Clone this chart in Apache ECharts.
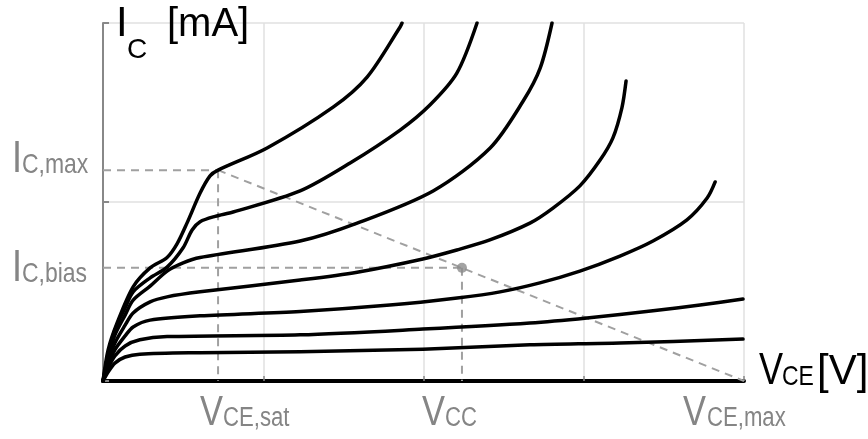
<!DOCTYPE html>
<html>
<head>
<meta charset="utf-8">
<script src="https://cdn.jsdelivr.net/npm/echarts@6/dist/echarts.min.js"></script>
<style>
  html, body { margin: 0; padding: 0; background: #fff; }
  #c { width: 868px; height: 439px; }
</style>
</head>
<body>
<div id="c"></div>
<script>
// Output characteristics of a bipolar transistor: I_C versus V_CE for several base currents.
// Units are arbitrary (only the shape matters): V_CE on 0..20, I_C on 0..10.
const curveIb1 = [[0,0],[0.16,0.25],[0.37,0.50],[0.69,0.67],[1.15,0.75],[3.03,0.79],[6.15,0.82],[9.98,0.89],[13.32,1.01],[16.13,1.06],[19.97,1.17]];
const curveIb2 = [[0,0],[0.16,0.36],[0.37,0.70],[0.69,0.98],[1.15,1.15],[2.00,1.24],[6.15,1.29],[9.98,1.45],[13.32,1.62],[15.10,1.76],[17.16,1.96],[18.63,2.12],[19.97,2.29]];
const curveIb3 = [[0,0],[0.16,0.45],[0.37,0.87],[0.69,1.26],[0.94,1.51],[1.47,1.70],[3.03,1.82],[6.15,1.94],[8.95,2.12],[11.05,2.32],[12.39,2.49],[13.63,2.74],[14.88,3.07],[16.13,3.49],[17.16,3.91],[18.22,4.50],[18.85,5.11],[19.10,5.56]];
const curveIb4 = [[0,0],[0.16,0.53],[0.37,1.06],[0.69,1.56],[0.94,1.90],[1.47,2.21],[2.00,2.35],[3.03,2.49],[6.15,2.82],[7.93,3.04],[9.98,3.41],[11.04,3.66],[12.07,3.94],[13.32,4.41],[14.04,4.83],[14.88,5.45],[15.51,6.17],[15.91,6.79],[16.19,7.63],[16.32,8.38]];
const curveIb5 = [[0,0],[0.16,0.64],[0.37,1.28],[0.69,1.84],[0.94,2.26],[1.47,2.65],[2.00,3.07],[2.50,3.30],[3.03,3.45],[6.15,3.91],[7.93,4.41],[10.30,5.31],[12.08,6.51],[13.11,7.82],[13.64,8.74],[14.01,10.0]];
const curveIb6 = [[0,0],[0.16,0.73],[0.37,1.42],[0.69,2.04],[0.94,2.49],[1.47,2.88],[2.00,3.18],[2.50,3.72],[2.78,4.22],[3.03,4.45],[3.50,4.60],[4.06,4.72],[6.15,5.31],[7.71,6.09],[9.27,7.01],[10.20,7.71],[11.04,8.60],[11.67,10.0]];
const curveIb7 = [[0,0],[0.16,0.87],[0.44,1.62],[0.94,2.63],[1.47,3.16],[2.00,3.45],[2.31,3.83],[2.62,4.41],[3.03,5.25],[3.34,5.73],[3.59,5.89],[5.12,6.51],[7.18,7.65],[8.24,8.49],[9.27,9.89],[9.33,10.0]];
const curves = [curveIb1, curveIb2, curveIb3, curveIb4, curveIb5, curveIb6, curveIb7];

// Operating limits and bias point
const vceSat = 3.59;   // V_CE,sat
const icMax = 5.89;    // I_C,max
const vceMax = 20;     // V_CE,max (load line end)
const vcc = 11.2;      // V_CC
const icBias = 3.16;   // I_C,bias

// Axis ranges
const xMin = 0, xMax = 20, xStep = 5;
const yMin = 0, yMax = 10, yStep = 5;

const SANS = "'Liberation Sans', Arial, sans-serif";
const NARROW_SCALE = 0.82;   // condensed look for the symbol letters
const GREY_TXT = '#858585';
const DASH = { color: '#a0a0a0', width: 2, type: [8, 6] };

const chart = echarts.init(document.getElementById('c'), null, { renderer: 'canvas' });

const dashed = (data) => ({
  type: 'line', data, showSymbol: false, silent: true, z: 2,
  lineStyle: DASH
});

const series = [
  dashed([[xMin, icMax], [vceSat, icMax]]),
  dashed([[vceSat, icMax], [vceSat, yMin]]),
  dashed([[vceSat, icMax], [vceMax, yMin]]),
  dashed([[xMin, icBias], [vcc, icBias]]),
  dashed([[vcc, icBias], [vcc, yMin]]),
  {
    type: 'scatter', data: [[vcc, icBias]], symbolSize: 10, z: 4,
    itemStyle: { color: '#8c8c8c' }
  }
];
curves.forEach((c) => series.push({
  type: 'line', data: c, showSymbol: false, smooth: 0.3, z: 3,
  lineStyle: { color: '#000', width: 3.5, cap: 'round', join: 'round' }
}));

chart.setOption({
  animation: false,
  backgroundColor: '#fff',
  grid: { left: 103, right: 124, top: 23, bottom: 58 },
  xAxis: {
    type: 'value', min: xMin, max: xMax, interval: xStep,
    axisLine: { show: true, onZero: false, lineStyle: { color: '#000', width: 4 } },
    axisTick: { show: true, inside: true, length: 5, lineStyle: { color: '#888', width: 1.5 } },
    axisLabel: { show: false },
    splitLine: { show: true, showMinLine: false, lineStyle: { color: '#e0e0e0', width: 1.5 } }
  },
  yAxis: {
    type: 'value', min: yMin, max: yMax, interval: yStep,
    axisLine: { show: true, onZero: false, lineStyle: { color: '#888', width: 2 } },
    axisTick: { show: true, inside: true, length: 6, lineStyle: { color: '#888', width: 2 } },
    axisLabel: { show: false },
    splitLine: { show: true, showMinLine: false, lineStyle: { color: '#e0e0e0', width: 1.5 } }
  },
  series
});

// Text placed by its alphabetic baseline; sx < 1 condenses it horizontally
function txt(str, left, baseline, size, color, sx) {
  return {
    type: 'text', x: left, y: baseline - 0.35 * size, scaleX: sx || 1, silent: true, z: 10,
    style: { text: str, fontSize: size, fontFamily: SANS, fill: color, align: 'left', verticalAlign: 'middle' }
  };
}

const px = (x, y) => chart.convertToPixel({ gridIndex: 0 }, [x, y]);
const pSat = px(vceSat, icMax);
const pBias = px(vcc, icBias);
const pMax = px(vceMax, yMin);
const pOrigin = px(xMin, yMin);
const baseX = pOrigin[1] + 47;
const N = NARROW_SCALE;

chart.setOption({
  graphic: [
    // y-axis title
    txt('I', 116, 39, 42, '#000'),
    txt('C', 127, 60, 28, '#000'),
    txt('[mA]', 167, 39, 40, '#000'),
    // x-axis title
    txt('V', 759, 387, 44, '#000', N),
    txt('CE', 782, 387, 28, '#000', N),
    txt('[V]', 817, 387, 42, '#000'),
    // current levels
    txt('I', 12, pSat[1] + 5, 44, GREY_TXT, N),
    txt('C,max', 22, pSat[1] + 5, 28, GREY_TXT, N),
    txt('I', 12, pBias[1] + 16, 44, GREY_TXT, N),
    txt('C,bias', 22, pBias[1] + 16, 28, GREY_TXT, N),
    // voltage levels
    txt('V', pSat[0] - 18, baseX, 42, GREY_TXT, N),
    txt('CE,sat', pSat[0] + 5, baseX, 27, GREY_TXT, N),
    txt('V', pBias[0] - 40, baseX, 42, GREY_TXT, N),
    txt('CC', pBias[0] - 17, baseX, 27, GREY_TXT, N),
    txt('V', pMax[0] - 61, baseX, 42, GREY_TXT, N),
    txt('CE,max', pMax[0] - 37, baseX, 27, GREY_TXT, N)
  ]
});
</script>
</body>
</html>
